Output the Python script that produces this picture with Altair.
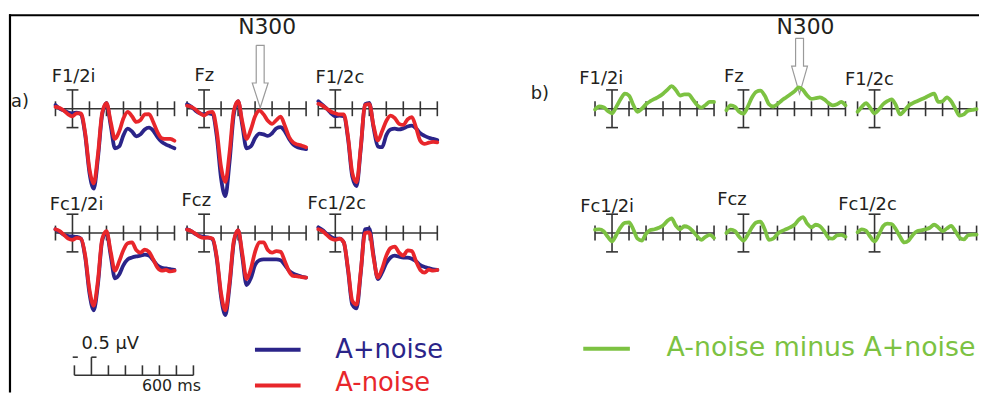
import altair as alt
import pandas as pd

# ---------------- data ----------------
TIME = [-100, -75, -50, -25, 0, 25, 50, 75, 100, 125, 150, 175, 200, 225, 250,
        275, 300, 325, 350, 375, 400, 425, 450, 475, 500, 525, 550, 575, 600]

ELECTRODES = ["F1/2i", "Fz", "F1/2c", "Fc1/2i", "Fcz", "Fc1/2c"]

# A+noise (blue), µV
plus_F12i = [0.1, 0.0, -0.05, -0.1, -0.12, -0.1, -0.15, -0.7, -1.7, -2.12, -1.3, -0.15, 0.15, -0.45, -1.05,
             -1.0, -0.7, -0.53, -0.6, -0.73, -0.68, -0.55, -0.5, -0.58, -0.75, -0.88, -0.95, -1.0, -1.05]
plus_Fz = [0.12, 0.05, -0.05, -0.12, -0.15, -0.12, -0.15, -0.75, -1.85, -2.32, -1.4, -0.15, 0.2, -0.45, -1.05,
           -1.0, -0.78, -0.66, -0.68, -0.72, -0.65, -0.52, -0.49, -0.6, -0.8, -0.95, -1.02, -1.05, -1.07]
plus_F12c = [0.2, 0.1, 0.0, -0.12, -0.2, -0.18, -0.2, -0.8, -1.8, -2.05, -1.05, 0.12, 0.15, -0.5, -1.0,
             -1.02, -0.7, -0.55, -0.53, -0.55, -0.52, -0.47, -0.45, -0.52, -0.65, -0.72, -0.77, -0.8, -0.83]
plus_Fc12i = [0.1, 0.03, -0.05, -0.08, -0.09, -0.1, -0.15, -0.65, -1.6, -2.05, -1.35, -0.2, 0.02, -0.6, -1.2,
              -1.1, -0.85, -0.7, -0.65, -0.62, -0.6, -0.57, -0.6, -0.72, -0.86, -0.92, -0.94, -0.96, -0.98]
plus_Fcz = [0.1, 0.05, -0.03, -0.08, -0.1, -0.12, -0.17, -0.7, -1.7, -2.18, -1.4, -0.25, 0.08, -0.65, -1.38,
            -1.2, -0.85, -0.72, -0.7, -0.7, -0.7, -0.7, -0.72, -0.85, -1.0, -1.08, -1.12, -1.16, -1.18]
plus_Fc12c = [0.15, 0.08, -0.02, -0.1, -0.15, -0.15, -0.25, -1.0, -1.9, -2.0, -1.05, 0.1, 0.12, -0.6, -1.22,
              -1.05, -0.8, -0.65, -0.6, -0.63, -0.65, -0.65, -0.68, -0.75, -0.85, -0.9, -0.93, -0.96, -0.98]

# A-noise (red), µV
minus_F12i = [0.05, 0.02, -0.05, -0.15, -0.2, -0.12, -0.12, -0.65, -1.6, -1.98, -1.2, -0.1, 0.15, -0.35, -0.8,
              -0.6, -0.25, -0.08, -0.2, -0.35, -0.3, -0.15, -0.14, -0.35, -0.62, -0.78, -0.8, -0.8, -0.85]
minus_Fz = [0.08, 0.05, -0.02, -0.12, -0.18, -0.1, -0.08, -0.6, -1.55, -1.94, -1.15, -0.05, 0.2, -0.35, -0.8,
            -0.55, -0.2, -0.05, -0.15, -0.32, -0.4, -0.3, -0.21, -0.45, -0.75, -0.9, -0.95, -0.98, -1.02]
minus_F12c = [0.13, 0.08, 0.0, -0.08, -0.12, -0.15, -0.15, -0.75, -1.7, -1.95, -1.0, 0.1, 0.12, -0.45, -0.84,
              -0.6, -0.32, -0.18, -0.25, -0.4, -0.43, -0.28, -0.22, -0.5, -0.85, -0.93, -0.9, -0.88, -0.89]
minus_Fc12i = [0.1, 0.05, -0.05, -0.15, -0.18, -0.13, -0.15, -0.6, -1.5, -1.93, -1.25, -0.15, 0.05, -0.5, -1.0,
               -0.75, -0.45, -0.27, -0.25, -0.45, -0.52, -0.44, -0.5, -0.7, -0.92, -1.0, -0.98, -1.02, -1.0]
minus_Fcz = [0.09, 0.05, -0.02, -0.1, -0.13, -0.12, -0.15, -0.65, -1.6, -2.05, -1.3, -0.2, 0.08, -0.55, -1.22,
             -0.95, -0.5, -0.25, -0.25, -0.45, -0.52, -0.48, -0.5, -0.75, -1.02, -1.14, -1.15, -1.17, -1.18]
minus_Fc12c = [0.1, 0.05, -0.05, -0.15, -0.18, -0.15, -0.25, -0.95, -1.8, -1.9, -1.0, 0.0, 0.02, -0.65, -1.18,
               -0.95, -0.6, -0.4, -0.36, -0.52, -0.6, -0.46, -0.48, -0.75, -0.98, -1.05, -0.97, -1.0, -0.98]

# A-noise minus A+noise (green), µV
diff_F12i = [-0.02, 0.06, 0.04, -0.06, -0.12, 0.05, 0.25, 0.4, 0.35, 0.1, -0.08, 0.0, 0.12, 0.2, 0.26,
             0.32, 0.4, 0.5, 0.6, 0.5, 0.35, 0.38, 0.38, 0.25, 0.1, 0.03, 0.1, 0.18, 0.18]
diff_Fz = [-0.04, 0.09, 0.05, -0.08, -0.13, 0.05, 0.3, 0.45, 0.48, 0.35, 0.12, 0.06, 0.12, 0.22, 0.3,
           0.38, 0.46, 0.57, 0.5, 0.35, 0.26, 0.28, 0.3, 0.25, 0.15, 0.09, 0.12, 0.18, 0.09]
diff_F12c = [-0.08, 0.05, 0.15, 0.02, -0.12, -0.02, 0.12, 0.2, 0.25, 0.1, -0.15, -0.05, 0.08, 0.15, 0.2,
             0.25, 0.3, 0.36, 0.4, 0.18, 0.2, 0.3, 0.2, 0.0, -0.18, -0.15, -0.05, -0.03, -0.01]
diff_Fc12i = [0.09, 0.1, 0.05, -0.1, -0.22, -0.05, 0.15, 0.27, 0.28, 0.1, -0.15, -0.2, -0.02, 0.08, 0.1,
              0.14, 0.2, 0.32, 0.39, 0.2, 0.1, 0.18, 0.15, 0.05, -0.08, -0.18, -0.1, -0.05, -0.13]
diff_Fcz = [0.0, 0.09, 0.05, -0.1, -0.2, -0.05, 0.15, 0.28, 0.3, 0.1, -0.18, -0.15, -0.02, 0.05, 0.1,
            0.15, 0.22, 0.35, 0.42, 0.25, 0.15, 0.22, 0.18, 0.05, -0.12, -0.15, -0.06, -0.05, -0.1]
diff_Fc12c = [0.02, 0.1, 0.06, -0.1, -0.22, -0.05, 0.18, 0.25, 0.24, 0.1, -0.1, -0.25, -0.2, -0.05, 0.05,
              0.07, 0.1, 0.14, 0.22, 0.15, 0.05, 0.12, 0.19, 0.05, -0.12, -0.17, -0.06, -0.04, -0.04]

TICK_TIMES = [-100, 0, 100, 200, 300, 400, 500, 600]
ERRBAR_UV = 0.5
N300_MS = 330

PLUS = dict(zip(ELECTRODES, [plus_F12i, plus_Fz, plus_F12c, plus_Fc12i, plus_Fcz, plus_Fc12c]))
MINUS = dict(zip(ELECTRODES, [minus_F12i, minus_Fz, minus_F12c, minus_Fc12i, minus_Fcz, minus_Fc12c]))
DIFF = dict(zip(ELECTRODES, [diff_F12i, diff_Fz, diff_F12c, diff_Fc12i, diff_Fcz, diff_Fc12c]))

# ---------------- layout ----------------
BLUE = "#2b2489"
RED = "#e8262b"
GREEN = "#7cc242"
INK = "#231f20"
AXC = "#333333"
FONT = "DejaVu Sans"

PX_MS = 120.0 / 700.0      # pixels per ms
PX_UV = 38.0               # pixels per µV


def gx(px):
    return (px - 73.0) / PX_MS


def gy(py):
    return (108.0 - py) / PX_UV


A_ZERO = dict(zip(ELECTRODES, [(73, 108), (205.7, 108), (338, 108),
                               (73, 233.3), (205.7, 233.3), (338, 233.3)]))
B_ZERO = dict(zip(ELECTRODES, [(617, 108), (749.5, 108), (881.7, 108),
                               (617, 233.3), (749.5, 233.3), (881.7, 233.3)]))

# waveforms
wave_rows = []
for e in ELECTRODES:
    ox, oy = gx(A_ZERO[e][0]), gy(A_ZERO[e][1])
    for name, vals in [("A+noise", PLUS[e]), ("A-noise", MINUS[e])]:
        for t, v in zip(TIME, vals):
            wave_rows.append(dict(key=f"a|{e}|{name}", series=name, t=t, X=ox + t, Y=oy + v))
    ox, oy = gx(B_ZERO[e][0]), gy(B_ZERO[e][1])
    for t, v in zip(TIME, DIFF[e]):
        wave_rows.append(dict(key=f"b|{e}", series="diff", t=t, X=ox + t, Y=oy + v))
waves = pd.DataFrame(wave_rows)

# axes with ticks and error bars
rule_rows = []


def add_rule(x1, y1, x2, y2, color=AXC, sw=1.6):
    rule_rows.append(dict(X=x1, Y=y1, X2=x2, Y2=y2, color=color, sw=sw))


TICK_UV = 7.5 / PX_UV
CAP_MS = 6.0 / PX_MS
for zero in list(A_ZERO.values()) + list(B_ZERO.values()):
    ox, oy = gx(zero[0]), gy(zero[1])
    add_rule(ox + TIME[0], oy, ox + TIME[-1], oy)
    for tt in TICK_TIMES:
        if tt == 0:
            continue
        add_rule(ox + tt, oy - TICK_UV, ox + tt, oy + TICK_UV)
    add_rule(ox, oy - ERRBAR_UV, ox, oy + ERRBAR_UV)
    for s in (-1, 1):
        add_rule(ox - CAP_MS, oy + s * ERRBAR_UV, ox + CAP_MS, oy + s * ERRBAR_UV)

# scale bar (0.5 µV / 600 ms)
sx, sy = gx(92.1), gy(376.7)
add_rule(sx + TIME[0], sy, sx + TIME[-1], sy)
for tt in TICK_TIMES:
    if tt == 0:
        continue
    add_rule(sx + tt, sy, sx + tt, sy + 10 / PX_UV)
add_rule(sx, sy, sx, sy + 0.48)
add_rule(sx, sy + 0.48, sx + 30, sy + 0.48)
add_rule(sx - 110, sy + 0.48, sx - 80, sy + 0.48)

# frame
add_rule(gx(9), gy(13.7), gx(987), gy(13.7), "#000000", 2.2)
add_rule(gx(10), gy(12.6), gx(10), gy(394), "#000000", 2.2)

# legend swatches
add_rule(gx(257), gy(351), gx(303), gy(351), BLUE, 4)
add_rule(gx(257), gy(387), gx(303), gy(387), RED, 4)
add_rule(gx(588), gy(350), gx(635), gy(350), GREEN, 4)
rules = pd.DataFrame(rule_rows)

# hollow N300 arrows
arrow_rows = []
for name, zero, top, head, tip in [("a", A_ZERO["Fz"], 44, 82, 107), ("b", B_ZERO["Fz"], 37, 65, 93)]:
    cx = gx(zero[0]) + N300_MS
    hw, hh = 4 / PX_MS, 8 / PX_MS
    pts = [(cx - hw, top), (cx + hw, top), (cx + hw, head), (cx + hh, head), (cx, tip),
           (cx - hh, head), (cx - hw, head), (cx - hw, top)]
    for i, (x, py) in enumerate(pts):
        arrow_rows.append(dict(key=name, i=i, X=x, Y=gy(py)))
arrows = pd.DataFrame(arrow_rows)

# texts (left aligned, alphabetic baseline)
text_rows = []


def add_text(s, px, py, size=18, color=INK):
    text_rows.append(dict(X=gx(px), Y=gy(py), text=s, size=size, color=color))


add_text("a)", 11, 106)
add_text("b)", 535, 98)
for e, (px, py) in zip(ELECTRODES, [(52, 81), (196, 80.5), (318, 82), (50, 210), (183, 206.5), (310, 209)]):
    add_text(e, px, py)
for e, (px, py) in zip(ELECTRODES, [(584, 83), (730, 81), (852, 84), (585, 212), (723, 205), (845, 210)]):
    add_text(e, px, py)
add_text("0.5 µV", 82, 350)
add_text("600 ms", 143, 392.5, 16)
add_text("A+noise", 338, 359, 26, BLUE)
add_text("A-noise", 338, 392.5, 26, RED)
add_text("A-noise minus A+noise", 672, 357, 27, GREEN)
texts = pd.DataFrame(text_rows)

n300 = pd.DataFrame([
    dict(X=gx(A_ZERO["Fz"][0]) + N300_MS + 7 / PX_MS, Y=gy(33), text="N300"),
    dict(X=gx(B_ZERO["Fz"][0]) + N300_MS + 6 / PX_MS, Y=gy(33), text="N300"),
])

# ---------------- chart ----------------
XS = alt.Scale(domain=[gx(8), gx(987)], nice=False, zero=False)
YS = alt.Scale(domain=[gy(394), gy(8)], nice=False, zero=False)
xe = alt.X("X:Q", scale=XS, axis=None)
ye = alt.Y("Y:Q", scale=YS, axis=None)

rule_layer = alt.Chart(rules).mark_rule(strokeCap="butt").encode(
    x=xe, y=ye, x2="X2:Q", y2="Y2:Q",
    color=alt.Color("color:N", scale=None),
    strokeWidth=alt.StrokeWidth("sw:Q", scale=None),
)

arrow_layer = alt.Chart(arrows).mark_line(color="#9a9a9a", strokeWidth=1.2).encode(
    x=xe, y=ye, detail="key:N", order="i:Q"
)


def wave_layer(series, color):
    return alt.Chart(waves[waves.series == series]).mark_line(
        color=color, strokeWidth=3.8, interpolate="monotone", strokeCap="round", strokeJoin="round"
    ).encode(x=xe, y=ye, detail="key:N", order="t:Q")


text_layer = alt.Chart(texts).mark_text(align="left", baseline="alphabetic", font=FONT).encode(
    x=xe, y=ye, text="text:N",
    size=alt.Size("size:Q", scale=None),
    color=alt.Color("color:N", scale=None),
)

n300_layer = alt.Chart(n300).mark_text(align="center", baseline="alphabetic", font=FONT,
                                       fontSize=22, color=INK).encode(x=xe, y=ye, text="text:N")

chart = alt.layer(
    rule_layer, arrow_layer,
    wave_layer("A+noise", BLUE), wave_layer("A-noise", RED), wave_layer("diff", GREEN),
    text_layer, n300_layer,
).properties(
    width=979, height=386, autosize="none", padding=0,
).configure_view(stroke=None)

chart.save("out.html", embed_options={"renderer": "svg", "actions": False})
